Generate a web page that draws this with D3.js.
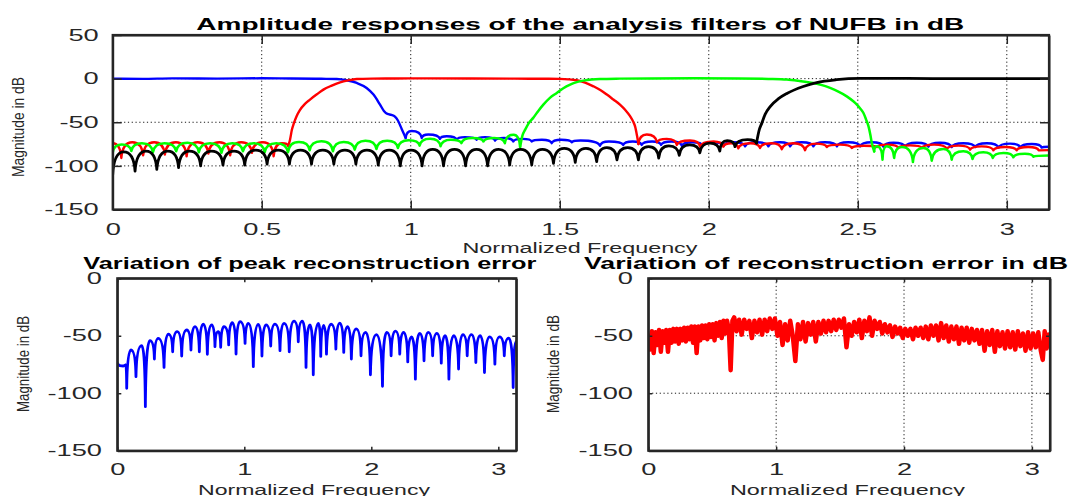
<!DOCTYPE html>
<html>
<head>
<meta charset="utf-8">
<script src="https://cdn.jsdelivr.net/npm/d3@7"></script>
<style>
  html, body { margin: 0; padding: 0; background: #fff; }
  svg { display: block; }
</style>
</head>
<body>
<script>
// ---------------- DATA ----------------
const topXTicks = [0, 0.5, 1, 1.5, 2, 2.5, 3];
const topYTicks = [-150, -100, -50, 0, 50];
const botXTicks = [0, 1, 2, 3];
const botYTicks = [-150, -100, -50, 0];

const titleTop = "Amplitude responses of the analysis filters of NUFB in dB";
const titleBL = "Variation of peak reconstruction error";
const titleBR = "Variation of reconstruction error in dB";
const xLabel = "Normalized Frequency";
const yLabel = "Magnitude in dB";

// Top panel, blue filter (lowpass) : passband + transition, then stopband ripple
const blueBand = [[0,0],[0.1,-0.3],[0.2,0.3],[0.35,0],[0.5,0.4],[0.6,0.1],[0.7,-0.2],[0.752,-0.4],[0.785,-1.9],[0.819,-5],[0.852,-10.7],[0.875,-18.3],[0.897,-29.8],[0.910,-37],[0.922,-40.5],[0.935,-41.5],[0.947,-43.5],[0.957,-48],[0.970,-58],[0.983,-68]];
const blueRipple = [[0.983,-68],[1.003,-60],[1.037,-68],[1.059,-64],[1.098,-69],[1.121,-66],[1.154,-70],[1.182,-67],[1.221,-70],[1.249,-67],[1.283,-71],[1.313,-68],[1.344,-72],[1.375,-69],[1.406,-72],[1.440,-70],[1.473,-74],[1.505,-70],[1.540,-73],[1.570,-71],[1.635,-77],[1.665,-72],[1.713,-76],[1.745,-72],[1.775,-76],[1.810,-72],[1.840,-76],[1.875,-72],[1.910,-77],[1.945,-73],[1.980,-77],[2.015,-73],[2.050,-77],[2.083,-73],[2.122,-77.6],[2.161,-73],[2.200,-77.6],[2.239,-73],[2.273,-77.6],[2.312,-73],[2.351,-77.6],[2.390,-73],[2.430,-77.6],[2.468,-73],[2.508,-77.6],[2.547,-73],[2.586,-78],[2.620,-73.5],[2.659,-78],[2.698,-73.5],[2.737,-78],[2.776,-73.5],[2.815,-78.5],[2.854,-74],[2.894,-78.5],[2.933,-74],[2.972,-79],[3.011,-74.5],[3.045,-79],[3.084,-75],[3.117,-79],[3.1416,-78]];

// Red filter
const redRipple = [[0,-74],[0.029,-91],[0.066,-73],[0.102,-88],[0.139,-73],[0.175,-87],[0.212,-73],[0.248,-89],[0.285,-73],[0.321,-86],[0.358,-73],[0.394,-88],[0.431,-73],[0.467,-85],[0.504,-73],[0.540,-89],[0.568,-74],[0.589,-77]];
const redBand = [[0.589,-77],[0.595,-70],[0.601,-59],[0.608,-51],[0.617,-43],[0.628,-36],[0.645,-29],[0.662,-24],[0.685,-18],[0.707,-12.6],[0.735,-8],[0.763,-4.2],[0.790,-2],[0.819,-0.5],[0.87,0],[0.95,0.2],[1.05,0.3],[1.2,0.2],[1.35,0],[1.45,-0.2],[1.50,-0.3],[1.530,-0.8],[1.557,-1.9],[1.585,-4.5],[1.613,-8.8],[1.636,-13],[1.658,-18.3],[1.680,-24],[1.702,-29.8],[1.720,-36],[1.736,-43],[1.746,-49],[1.753,-55],[1.759,-65],[1.764,-75]];
const redTail = [[1.764,-75],[1.792,-64],[1.826,-73],[1.859,-69],[1.893,-76],[1.937,-71],[1.971,-78],[2.016,-72],[2.049,-78],[2.075,-74],[2.099,-80],[2.139,-74],[2.172,-79.5],[2.211,-74],[2.245,-81],[2.284,-74],[2.323,-82],[2.360,-74.5],[2.396,-78.4],[2.440,-75.7],[2.480,-79.5],[2.520,-77],[2.564,-78.4],[2.600,-75.7],[2.636,-79.5],[2.675,-76.5],[2.715,-79.5],[2.756,-75.7],[2.799,-80.7],[2.838,-76.8],[2.877,-81.4],[2.916,-77.6],[2.955,-82.2],[2.994,-78.4],[3.033,-82.2],[3.072,-78.4],[3.107,-82.2],[3.1416,-82]];

// Green filter
const greenRipple = [[0,-85],[0.030,-75.5],[0.0625,-83],[0.098,-74],[0.135,-84.5],[0.174,-74],[0.213,-83.3],[0.251,-73.5],[0.289,-84.5],[0.327,-74],[0.365,-85],[0.401,-74],[0.437,-83.3],[0.474,-74],[0.510,-84.5],[0.549,-74],[0.588,-84.5],[0.625,-72.6],[0.661,-82.2],[0.700,-71.9],[0.739,-83.3],[0.775,-72.6],[0.812,-81.4],[0.848,-71.1],[0.885,-80.7],[0.921,-71.1],[0.957,-79.5],[0.993,-70.7],[1.030,-76.8],[1.065,-69],[1.100,-77.6],[1.135,-70],[1.170,-74],[1.207,-68],[1.244,-72],[1.280,-68],[1.316,-74],[1.345,-64.2],[1.367,-78.4]];
const greenBand = [[1.367,-78.4],[1.375,-65],[1.384,-58.5],[1.396,-51],[1.411,-45],[1.428,-37],[1.445,-29.8],[1.467,-22],[1.490,-16.4],[1.512,-11],[1.535,-6.9],[1.557,-4],[1.579,-2.3],[1.607,-1],[1.635,-0.4],[1.70,0],[1.80,0.2],[1.95,0.3],[2.10,0.2],[2.20,-0.3],[2.262,-1.1],[2.30,-2.5],[2.351,-5],[2.380,-7.5],[2.407,-10.7],[2.435,-15],[2.463,-20.3],[2.485,-26],[2.497,-29.8],[2.510,-35],[2.519,-39.4],[2.528,-47],[2.536,-54.7],[2.542,-64],[2.547,-73.8],[2.555,-83.4]];
const greenTail = [[2.555,-83.4],[2.564,-77.6],[2.583,-92.9],[2.597,-77.6],[2.622,-91],[2.648,-78.4],[2.685,-95.6],[2.720,-79.5],[2.748,-94.1],[2.787,-80.7],[2.815,-92.9],[2.854,-83.3],[2.885,-92.1],[2.921,-84.5],[2.953,-91],[2.989,-85.2],[3.022,-90.2],[3.061,-86],[3.089,-89.5],[3.1416,-88]];

// Black filter (highpass)
const blackRipple = [[0,-110],[0.037,-84],[0.075,-106],[0.112,-83],[0.148,-104],[0.185,-83],[0.221,-102],[0.258,-83],[0.295,-100],[0.332,-83],[0.370,-99],[0.407,-83],[0.443,-99],[0.480,-82],[0.518,-98],[0.555,-82],[0.593,-98],[0.630,-82],[0.667,-98],[0.705,-82],[0.742,-98],[0.779,-82],[0.816,-98],[0.853,-82],[0.891,-99],[0.928,-82],[0.965,-100],[1.001,-82],[1.038,-100],[1.074,-81],[1.110,-100],[1.147,-81],[1.184,-100],[1.221,-81],[1.258,-100],[1.295,-81],[1.332,-99],[1.369,-81],[1.406,-99],[1.442,-81],[1.479,-97],[1.515,-80],[1.552,-96],[1.588,-80],[1.624,-95],[1.658,-79],[1.692,-93],[1.728,-79],[1.764,-93],[1.798,-78],[1.832,-91],[1.866,-77],[1.901,-88],[1.936,-76],[1.970,-85],[2.004,-74],[2.037,-83],[2.062,-71],[2.088,-78],[2.130,-70],[2.160,-74]];
const blackBand = [[2.160,-74],[2.170,-58],[2.178,-51],[2.189,-41],[2.206,-32],[2.234,-23],[2.262,-17],[2.317,-9],[2.362,-4.5],[2.429,-1.2],[2.508,0.3],[2.60,0.4],[2.75,0],[2.9,0.1],[3.05,0],[3.1416,0]];

// Bottom-left: peak reconstruction error
const peakErrStart = [[0,-74],[0.02,-76],[0.047,-76.3],[0.066,-75.5]];
const peakErrRipple = [[0.066,-75.5],[0.074,-95.7],[0.108,-62.4],[0.147,-85.6],[0.192,-58.6],[0.221,-111.7],[0.257,-54.3],[0.292,-70.2],[0.323,-52.2],[0.368,-77.5],[0.402,-48.5],[0.436,-63.9],[0.472,-46.4],[0.507,-67.6],[0.546,-45],[0.580,-62.4],[0.612,-42.1],[0.646,-63.9],[0.677,-39.8],[0.709,-66.1],[0.743,-40.6],[0.769,-59.5],[0.795,-46.4],[0.814,-60],[0.840,-42.1],[0.877,-58],[0.906,-38.6],[0.935,-65.9],[0.966,-37.7],[1.006,-56.6],[1.032,-39.2],[1.071,-76.9],[1.110,-40.1],[1.139,-67.6],[1.171,-40.6],[1.208,-58.9],[1.242,-39.8],[1.281,-63],[1.313,-39.2],[1.354,-63.9],[1.391,-37.2],[1.425,-55.2],[1.457,-37.2],[1.486,-77.5],[1.517,-40.6],[1.543,-84],[1.583,-39.2],[1.602,-68],[1.625,-41],[1.647,-66],[1.684,-40],[1.721,-61.6],[1.752,-39],[1.783,-64.5],[1.813,-42],[1.843,-70.3],[1.881,-44],[1.919,-67.4],[1.956,-47],[1.993,-84],[2.040,-49],[2.088,-94],[2.122,-47],[2.156,-67.4],[2.190,-46],[2.224,-66],[2.255,-47],[2.287,-72.7],[2.317,-51],[2.347,-87.8],[2.381,-48],[2.415,-71.8],[2.449,-47],[2.483,-67.4],[2.517,-48],[2.551,-73.8],[2.581,-50],[2.611,-87.8],[2.649,-50],[2.687,-79],[2.721,-49],[2.755,-67.4],[2.789,-49],[2.823,-73.3],[2.857,-50],[2.891,-82],[2.932,-51],[2.973,-74.7],[3.010,-51],[3.047,-67.4],[3.082,-52],[3.117,-95],[3.1416,-55]];

// Bottom-right: reconstruction error in dB
const reconErr = [[0.000,-50],[0.014,-62],[0.028,-46],[0.042,-65],[0.056,-47],[0.070,-58],[0.084,-45],[0.098,-64],[0.112,-46],[0.126,-56],[0.140,-45],[0.154,-64],[0.168,-45],[0.182,-56],[0.196,-44],[0.210,-55],[0.224,-44],[0.238,-57],[0.252,-44],[0.266,-54],[0.280,-43],[0.294,-55],[0.308,-43],[0.322,-53],[0.336,-42],[0.350,-56],[0.364,-42],[0.378,-65],[0.392,-42],[0.406,-54],[0.420,-41],[0.434,-52],[0.448,-41],[0.462,-53],[0.476,-40],[0.490,-51],[0.504,-40],[0.518,-54],[0.532,-39],[0.546,-50],[0.560,-38],[0.574,-52],[0.588,-37],[0.602,-48],[0.616,-37],[0.630,-45],[0.644,-80],[0.658,-37],[0.672,-34],[0.690,-46],[0.710,-36],[0.730,-49],[0.750,-36],[0.770,-44],[0.790,-37],[0.810,-52],[0.830,-37],[0.850,-47],[0.870,-36],[0.890,-49],[0.910,-36],[0.930,-46],[0.950,-35],[0.970,-44],[0.990,-35],[1.010,-50],[1.030,-38],[1.050,-58],[1.070,-40],[1.090,-54],[1.110,-37],[1.130,-50],[1.150,-72],[1.170,-40],[1.190,-53],[1.210,-38],[1.230,-55],[1.250,-39],[1.270,-49],[1.290,-38],[1.310,-55],[1.330,-38],[1.350,-48],[1.370,-37],[1.390,-47],[1.410,-37],[1.430,-46],[1.450,-36],[1.470,-45],[1.490,-36],[1.510,-43],[1.530,-35],[1.550,-60],[1.570,-40],[1.590,-50],[1.610,-38],[1.630,-47],[1.650,-36],[1.670,-52],[1.690,-37],[1.710,-46],[1.730,-34],[1.750,-50],[1.770,-37],[1.790,-44],[1.810,-38],[1.830,-48],[1.850,-40],[1.870,-47],[1.890,-41],[1.910,-51],[1.930,-42],[1.950,-48],[1.970,-43],[1.990,-52],[2.010,-44],[2.030,-50],[2.050,-44],[2.070,-53],[2.090,-43],[2.110,-50],[2.130,-43],[2.150,-52],[2.170,-42],[2.190,-53],[2.210,-41],[2.230,-50],[2.250,-41],[2.270,-54],[2.290,-39],[2.310,-52],[2.330,-41],[2.350,-55],[2.370,-42],[2.390,-53],[2.410,-42],[2.430,-57],[2.450,-43],[2.470,-54],[2.490,-43],[2.510,-56],[2.530,-44],[2.550,-54],[2.570,-45],[2.590,-57],[2.610,-45],[2.630,-63],[2.650,-46],[2.670,-58],[2.690,-45],[2.710,-64],[2.730,-46],[2.750,-59],[2.770,-47],[2.790,-61],[2.810,-46],[2.830,-60],[2.850,-47],[2.870,-62],[2.890,-46],[2.910,-59],[2.930,-48],[2.950,-63],[2.970,-47],[2.990,-61],[3.010,-48],[3.030,-60],[3.050,-47],[3.070,-63],[3.085,-71],[3.100,-46],[3.115,-61],[3.130,-49],[3.1416,-56]];

// ---------------- RENDERING ----------------
const W = 1070, H = 496;
const FONT = "'Liberation Sans', Arial, Helvetica, sans-serif";
const AXIS_COLOR = "#262626";

const svg = d3.select("body").append("svg")
  .attr("width", W).attr("height", H)
  .style("background", "#fff");

// custom curve: arches with cusps at nulls and rounded tops (like dB ripple lobes)
function ArchCurve(context) { this._context = context; }
ArchCurve.prototype = {
  areaStart() { this._line = 0; },
  areaEnd() { this._line = NaN; },
  lineStart() { this._point = 0; },
  lineEnd() {},
  point(x, y) {
    x = +x; y = +y;
    if (!this._point) { this._point = 1; this._context.moveTo(x, y); }
    else {
      const x0 = this._x0, y0 = this._y0, dx = x - x0;
      if (y < y0) this._context.quadraticCurveTo(x0 + 0.12 * dx, y, x, y);
      else this._context.quadraticCurveTo(x0 + 0.88 * dx, y0, x, y);
    }
    this._x0 = x; this._y0 = y;
  }
};
const curveArch = ctx => new ArchCurve(ctx);

function stretch(sel, k) {
  sel.each(function () {
    const L = this.getComputedTextLength();
    d3.select(this).attr("textLength", L * k).attr("lengthAdjust", "spacingAndGlyphs");
  });
}

let clipId = 0;
function makePanel(o) {
  const x = d3.scaleLinear().domain([0, Math.PI]).range([o.left, o.right]);
  const y = d3.scaleLinear().domain(o.yDomain).range([o.bottom, o.top]);
  const g = svg.append("g");
  const id = "clip" + (clipId++);
  svg.append("clipPath").attr("id", id).append("rect")
    .attr("x", o.left).attr("y", o.top)
    .attr("width", o.right - o.left).attr("height", o.bottom - o.top);

  if (o.grid) {
    const gg = g.append("g").attr("stroke", "#1a1a1a").attr("stroke-width", 1)
      .attr("stroke-dasharray", "1.2,2.6").attr("fill", "none");
    o.xTicks.filter(t => t > 0).forEach(t => {
      gg.append("line").attr("x1", x(t)).attr("x2", x(t)).attr("y1", o.top).attr("y2", o.bottom);
    });
    o.yTicks.filter(t => t > o.yDomain[0] && t < o.yDomain[1]).forEach(t => {
      gg.append("line").attr("x1", o.left).attr("x2", o.right).attr("y1", y(t)).attr("y2", y(t));
    });
  }
  const data = g.append("g").attr("clip-path", `url(#${id})`);
  return { x, y, g, data, o };
}

function finishPanel(p) {
  const { x, y, g, o } = p;
  const fmt = d => String(d);
  const ax = g.append("g").attr("transform", `translate(0,${o.bottom})`)
    .call(d3.axisBottom(x).tickValues(o.xTicks).tickFormat(fmt)
      .tickSize(-o.tickLen).tickSizeOuter(0).tickPadding(o.xPad));
  const ay = g.append("g").attr("transform", `translate(${o.left},0)`)
    .call(d3.axisLeft(y).tickValues(o.yTicks).tickFormat(fmt)
      .tickSize(-o.tickLen).tickSizeOuter(0).tickPadding(o.yPad));
  const at = g.append("g").attr("transform", `translate(0,${o.top})`)
    .call(d3.axisTop(x).tickValues(o.xTicks).tickFormat("")
      .tickSize(-o.tickLen).tickSizeOuter(0));
  const ar = g.append("g").attr("transform", `translate(${o.right},0)`)
    .call(d3.axisRight(y).tickValues(o.yTicks).tickFormat("")
      .tickSize(-o.tickLen).tickSizeOuter(0));
  [ax, ay, at, ar].forEach(a => {
    a.select(".domain").attr("stroke", AXIS_COLOR).attr("stroke-width", 2);
    a.selectAll(".tick line").attr("stroke", AXIS_COLOR).attr("stroke-width", 1.5);
  });
  [ax, ay].forEach(a => {
    a.selectAll(".tick text")
      .attr("font-family", FONT).attr("font-size", 16).attr("fill", AXIS_COLOR);
    stretch(a.selectAll(".tick text"), 1.7);
  });
  g.append("rect").attr("x", o.left).attr("y", o.top)
    .attr("width", o.right - o.left).attr("height", o.bottom - o.top)
    .attr("fill", "none").attr("stroke", AXIS_COLOR).attr("stroke-width", 2.2);
}

function addLine(p, data, color, width, curve) {
  p.data.append("path").datum(data)
    .attr("fill", "none").attr("stroke", color).attr("stroke-width", width)
    .attr("stroke-linejoin", "round").attr("stroke-linecap", "round")
    .attr("d", d3.line().x(d => p.x(d[0])).y(d => p.y(d[1])).curve(curve));
}

function addText(str, x, y, opts) {
  const t = svg.append("text").text(str)
    .attr("x", x).attr("y", y)
    .attr("font-family", FONT)
    .attr("font-size", opts.size)
    .attr("font-weight", opts.bold ? "bold" : "normal")
    .attr("fill", opts.color || "#000")
    .attr("text-anchor", opts.anchor || "start");
  if (opts.rotate) t.attr("transform", `rotate(${opts.rotate},${x},${y})`);
  if (opts.length) t.attr("textLength", opts.length).attr("lengthAdjust", "spacingAndGlyphs");
  return t;
}

// ---- Top panel ----
const topPanel = makePanel({
  left: 112.7, right: 1049, top: 35, bottom: 209.5,
  yDomain: [-150, 50], xTicks: topXTicks, yTicks: topYTicks,
  grid: true, tickLen: 9, xPad: 14, yPad: 14
});
addLine(topPanel, blueBand, "#0000ff", 2.4, d3.curveMonotoneX);
addLine(topPanel, blueRipple, "#0000ff", 2.4, curveArch);
addLine(topPanel, redRipple, "#ff0000", 2.4, curveArch);
addLine(topPanel, redBand, "#ff0000", 2.4, d3.curveMonotoneX);
addLine(topPanel, redTail, "#ff0000", 2.4, curveArch);
addLine(topPanel, greenRipple, "#00ff00", 2.5, curveArch);
addLine(topPanel, greenBand, "#00ff00", 2.5, d3.curveMonotoneX);
addLine(topPanel, greenTail, "#00ff00", 2.5, curveArch);
addLine(topPanel, blackRipple, "#000000", 2.8, curveArch);
addLine(topPanel, blackBand, "#000000", 2.8, d3.curveMonotoneX);
finishPanel(topPanel);

// ---- Bottom-left panel ----
const blPanel = makePanel({
  left: 117.3, right: 516.3, top: 278.3, bottom: 450.7,
  yDomain: [-150, 0], xTicks: botXTicks, yTicks: botYTicks,
  grid: false, tickLen: 4, xPad: 13, yPad: 15.3
});
addLine(blPanel, peakErrStart, "#0000ff", 2.8, d3.curveMonotoneX);
addLine(blPanel, peakErrRipple, "#0000ff", 2.8, curveArch);
finishPanel(blPanel);

// ---- Bottom-right panel ----
const brPanel = makePanel({
  left: 648.3, right: 1050, top: 278.3, bottom: 450.7,
  yDomain: [-150, 0], xTicks: botXTicks, yTicks: botYTicks,
  grid: true, tickLen: 4, xPad: 13, yPad: 15.3
});
addLine(brPanel, reconErr, "#ff0000", 4.5, d3.curveLinear);
finishPanel(brPanel);

// ---- Titles and labels ----
addText(titleTop, 196.3, 30, { size: 16.5, bold: true, length: 768 });
addText(titleBL, 83.3, 269, { size: 16.5, bold: true, length: 453 });
addText(titleBR, 584, 269, { size: 16.5, bold: true, length: 484 });

addText(xLabel, 580, 253.3, { size: 14, anchor: "middle", length: 235, color: AXIS_COLOR });
addText(xLabel, 314, 494.5, { size: 14, anchor: "middle", length: 232, color: AXIS_COLOR });
addText(xLabel, 847.5, 494.5, { size: 14, anchor: "middle", length: 235, color: AXIS_COLOR });

addText(yLabel, 24.2, 127, { size: 17, anchor: "middle", rotate: -90, length: 100, color: AXIS_COLOR });
addText(yLabel, 28.9, 364, { size: 17, anchor: "middle", rotate: -90, length: 96, color: AXIS_COLOR });
addText(yLabel, 559.4, 364, { size: 17, anchor: "middle", rotate: -90, length: 98, color: AXIS_COLOR });
</script>
</body>
</html>
